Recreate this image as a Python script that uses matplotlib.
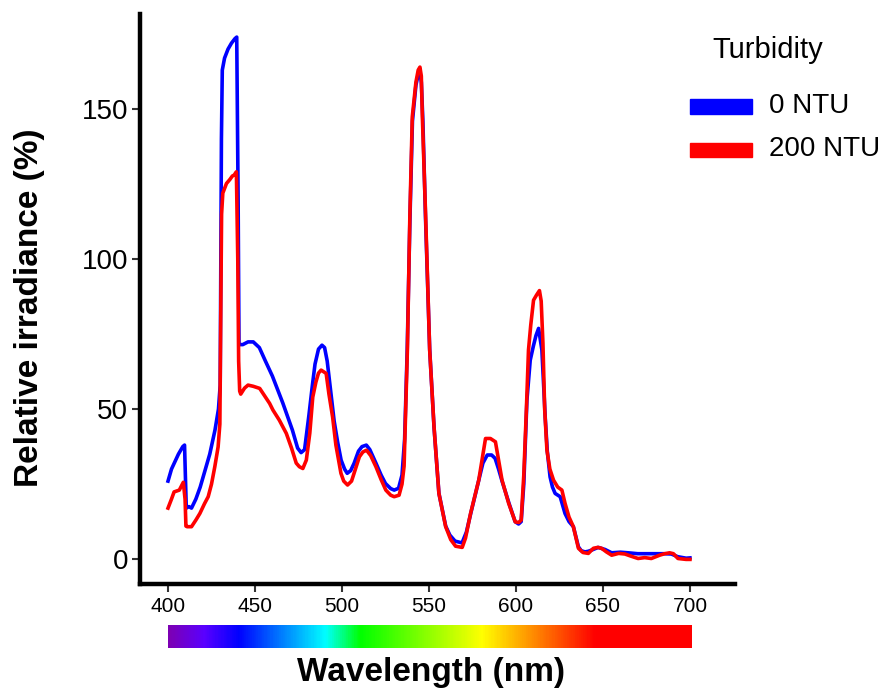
import matplotlib
matplotlib.use('Agg')
import matplotlib.pyplot as plt
import numpy as np
from matplotlib.colors import LinearSegmentedColormap
from matplotlib.patches import Rectangle

plt.rcParams['font.family'] = ['Liberation Sans', 'DejaVu Sans']

# 0 NTU spectrum (blue)
wl_0 = [400, 402, 404, 406, 408.5, 409.5, 410.5, 412, 413.5, 416, 418.5, 421, 424, 427, 429, 430,
        430.7, 431.2, 432.5, 434.5, 436.5, 438.5, 439.5, 440.3, 440.8, 443, 446, 449, 452.5, 456,
        460, 466, 471.5, 474.5, 476.5, 478.5, 481, 483, 484.5, 486.5, 488.5, 490, 491.5, 493.5,
        495.5, 497.5, 499.5, 501.5, 503, 505, 507, 509.5, 511.5, 514, 516, 519.5, 522.5, 525, 528,
        530, 532.5, 534.5, 536, 537.5, 539, 540.5, 542.5, 543.8, 544.8, 545.6, 546.5, 548, 550.4,
        552.9, 555.7, 559.6, 562, 565, 569, 571.5, 574, 578.5, 581, 583.5, 586, 588, 590, 592, 596,
        599.5, 601.5, 603, 604.5, 606.3, 608.2, 610, 611.5, 613, 614.9, 616.8, 618, 619.6, 621,
        622.5, 625.4, 628.2, 630.5, 633, 635.9, 637.5, 639.7, 641.5, 643.5, 647.3, 651.2, 655, 660,
        664.5, 670, 675, 680, 685, 689.3, 693, 697.8, 700]
irr_0 = [26, 30, 32.5, 35, 37.5, 38, 17, 17.5, 17, 20, 24, 29, 35, 43, 50, 58,
         140, 163, 167, 170, 172, 173.5, 174, 120, 71.5, 71.5, 72.4, 72.4, 70.5, 66,
         61, 52, 43, 37, 35.5, 36.5, 48, 58, 65, 70, 71.3, 70.5, 66, 56,
         46, 39, 33, 30, 28.6, 29.5, 32, 36, 37.5, 38, 36.5, 32, 28, 25.2, 23.5,
         23, 23.6, 28, 40, 70, 112, 146, 158, 161.5, 162.5, 159, 146, 114, 70,
         44, 22, 11, 8, 6, 5.4, 9, 15.2, 26, 32, 34.7, 34.7, 33.6, 30, 26, 18.6,
         12.5, 11.7, 12.5, 25, 53, 66.3, 71, 74.5, 76.9, 69.7, 47.4, 36, 27.4, 24,
         21.9, 20.8, 15.2, 12.5, 10.8, 4.1, 2.8, 2.4, 2.6, 3.0, 3.9, 3.2, 2.1, 2.3,
         2.1, 1.8, 1.8, 1.8, 1.8, 1.7, 0.8, 0.3, 0.4]

# 200 NTU spectrum (red)
wl_200 = [400, 402, 403.5, 406.5, 408.8, 409.8, 410.3, 411, 413.5, 416, 418.3, 421, 423.1, 425,
          426.9, 428.8, 429.8, 430.3, 430.8, 431.5, 433.6, 435.5, 437, 438, 439.3, 440.1, 440.6,
          441.2, 441.8, 444, 446, 449, 452.7, 456, 458.4, 460.3, 464, 468, 471, 473.7, 475.5,
          477.5, 479.5, 481.5, 483.2, 485, 486.5, 488, 490.9, 492.5, 494.6, 496.5, 499.4, 501,
          503.2, 505.5, 508, 510, 512, 514.1, 516.5, 519.5, 522.5, 525.2, 528, 530, 532.8, 534.5,
          535.7, 537.6, 539, 540.4, 542.5, 543.8, 544.8, 545.6, 546.2, 548.1, 550.4, 552.9, 555.7,
          559.6, 562.5, 565.3, 569.1, 571, 573.9, 578.6, 580.5, 582.5, 585.3, 588.2, 590, 592,
          595.8, 599.6, 601.5, 603, 604.5, 606, 607.2, 608.5, 610.1, 611.8, 613.5, 614.5, 615.5,
          616.5, 617.8, 619.5, 621.6, 624, 626.4, 628.2, 630.5, 633, 635.9, 638.5, 641.6, 644.5,
          647, 649.2, 652, 655, 659, 662.6, 666, 670.2, 674, 677.8, 680.5, 682.6, 685.5, 688.3,
          690.5, 693.1, 697.8, 700]
irr_200 = [17, 20, 22.4, 23, 25.6, 20, 11, 10.8, 10.8, 13, 15.2, 18.5, 20.8, 25,
           30.8, 37.4, 45, 80, 115, 122, 125.2, 126.5, 127.7, 128, 129.1, 100, 66,
           56, 55, 57, 58, 57.6, 56.9, 54, 51.9, 49.7, 46.3, 41.9, 37, 32, 30.8,
           30.2, 33, 42, 54, 59, 62, 63, 61.9, 55, 47.4, 38, 28.6, 26,
           24.7, 26, 30.5, 34.1, 35.7, 36.3, 34.5, 30.8, 26.5, 23, 21.3, 20.8, 21.3, 25,
           31, 70, 114, 147.4, 159, 163, 164, 161, 147.4, 114, 69.7, 44.1, 21.9,
           10.8, 6.5, 4.3, 3.9, 7, 15.2, 26.3, 33, 40.2, 40.2, 39.1, 33, 26.3,
           18.6, 12.4, 12.2, 13, 28, 50, 69.7, 78, 86.3, 88, 89.5, 86, 72,
           50, 36.3, 30, 26.3, 24, 23, 18.6, 14, 10.8, 3.6, 2.2, 1.9, 3.6,
           3.9, 3.6, 2.4, 1.3, 1.9, 1.7, 1.0, 0.2, 0.5, 0.2, 0.8, 1.3, 1.8, 2.1,
           1.8, 0.2, -0.1, -0.1]

labels = ['0 NTU', '200 NTU']
colors = ['#0000ff', '#ff0000']

# colour stops for the wavelength bar
bar_wl = [400, 420, 440, 490, 510, 580, 645, 700]
bar_col = ['#7d00b4', '#5a00ff', '#0000ff', '#00ffff', '#00ff00', '#ffff00', '#ff0000', '#ff0000']

W, H = 887, 694
fig = plt.figure(figsize=(W / 100, H / 100), dpi=100)
ax = fig.add_axes([140 / W, (H - 584) / H, (735 - 140) / W, (584 - 14) / H])

ax.plot(wl_0, irr_0, color=colors[0], lw=2.6, solid_joinstyle='round')
ax.plot(wl_200, irr_200, color=colors[1], lw=2.6, solid_joinstyle='round')

ax.set_xlim(383.9, 725.9)
ax.set_ylim(-8.3, 181.7)
ax.set_xticks([400, 450, 500, 550, 600, 650, 700])
ax.set_yticks([0, 50, 100, 150])
for s in ['top', 'right']:
    ax.spines[s].set_visible(False)
for s in ['left', 'bottom']:
    ax.spines[s].set_linewidth(3.2)
    ax.spines[s].set_capstyle('projecting')
ax.tick_params(axis='both', length=5.5, width=1.5, color='#333333')
ax.tick_params(axis='x', labelsize=15, pad=4)
ax.tick_params(axis='y', labelsize=20, pad=3)

fig.text(30 / W, 1 - 308 / H, 'Relative irradiance (%)', rotation=90, fontsize=24,
         fontweight='bold', ha='center', va='center')

# wavelength colour bar
cmap = LinearSegmentedColormap.from_list(
    'spec', [((w - bar_wl[0]) / (bar_wl[-1] - bar_wl[0]), c) for w, c in zip(bar_wl, bar_col)])
bax = fig.add_axes([168 / W, 1 - 648 / H, 524 / W, 23 / H])
grad = np.linspace(bar_wl[0], bar_wl[-1], 600)[None, :]
bax.imshow(grad, cmap=cmap, aspect='auto', extent=[bar_wl[0], bar_wl[-1], 0, 1])
bax.axis('off')

fig.text(431 / W, 1 - 673 / H, 'Wavelength (nm)', fontsize=24, fontweight='bold',
         ha='center', va='center')

# legend
fig.text(712 / W, 1 - 58 / H, 'Turbidity', fontsize=21, ha='left', va='baseline')
for i, (lab, c) in enumerate(zip(labels, colors)):
    top = 99 + 43.5 * i
    fig.patches.append(Rectangle((690 / W, 1 - (top + 14.5) / H), 62 / W, 14.5 / H,
                                 transform=fig.transFigure, color=c, figure=fig))
    fig.text(769 / W, 1 - (113 + 43.5 * i) / H, lab, fontsize=20, ha='left', va='baseline')

fig.savefig('out.png', dpi=100)
